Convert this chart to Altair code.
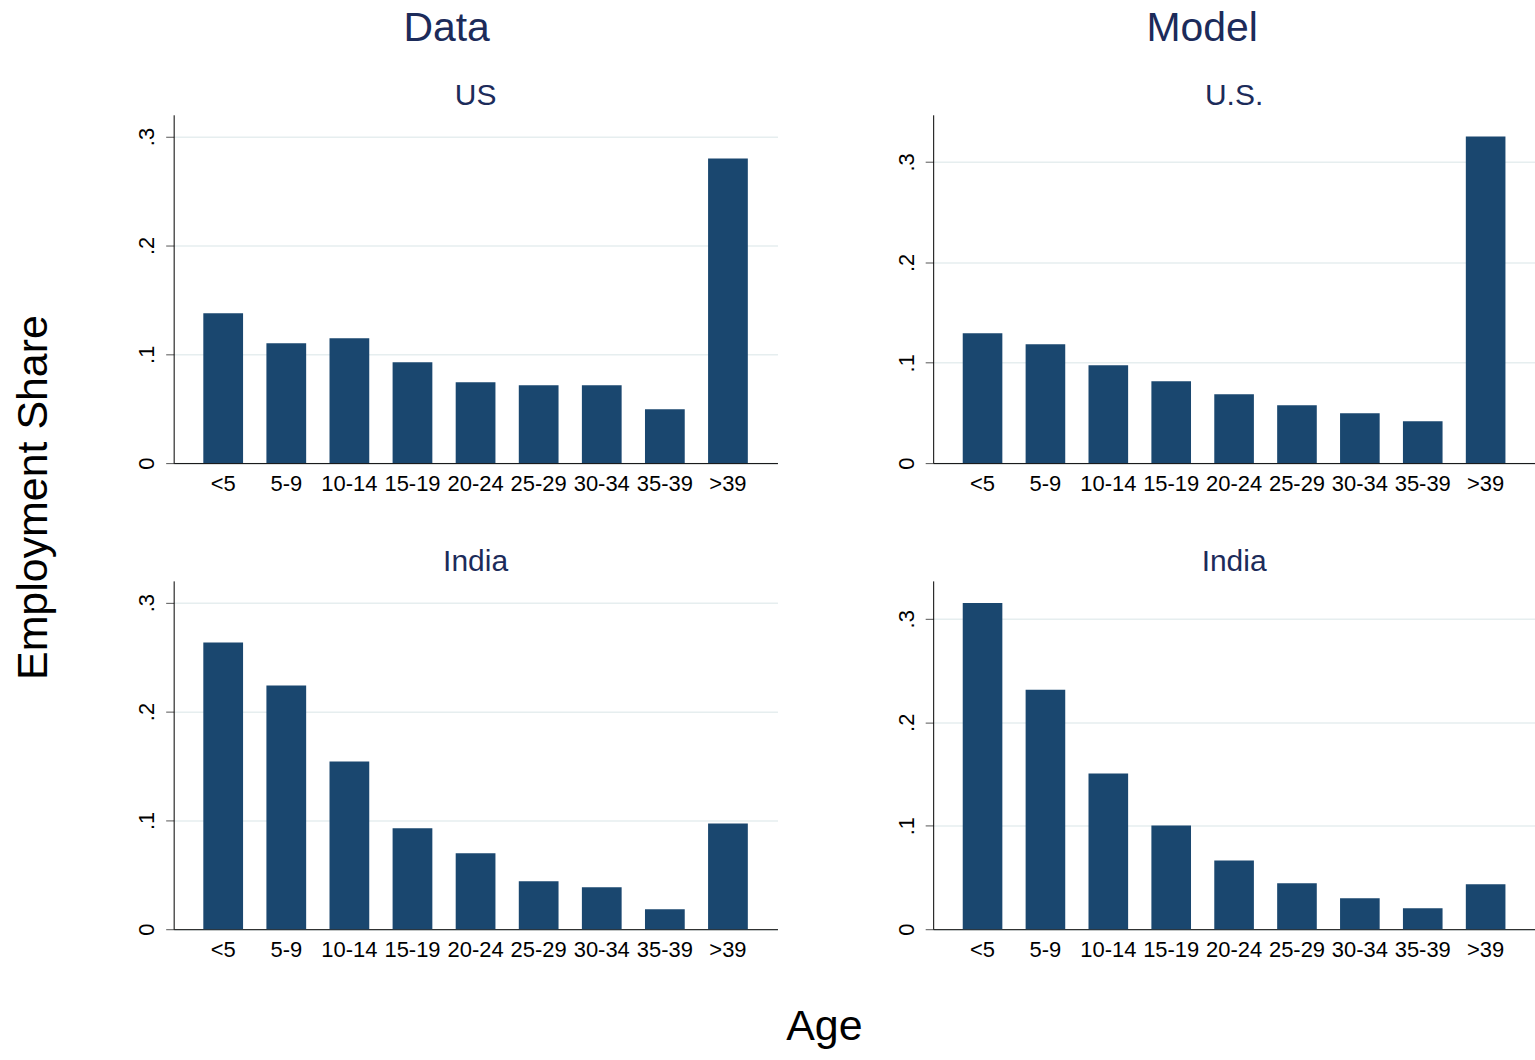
import altair as alt
import pandas as pd

AGE = ["<5", "5-9", "10-14", "15-19", "20-24", "25-29", "30-34", "35-39", ">39"]

US_DATA = [0.1376, 0.1101, 0.1147, 0.0927, 0.0743, 0.0716, 0.0716, 0.0495, 0.2798]
INDIA_DATA = [0.2633, 0.2239, 0.1541, 0.0927, 0.0697, 0.0440, 0.0385, 0.0183, 0.0972]
US_MODEL = [0.1294, 0.1184, 0.0975, 0.0816, 0.0687, 0.0577, 0.0498, 0.0418, 0.3254]
INDIA_MODEL = [0.3153, 0.2314, 0.1504, 0.1003, 0.0665, 0.0444, 0.0299, 0.0203, 0.0434]

Y_TICKS = [0, 0.1, 0.2, 0.3]

FONT = "Liberation Sans"
BAR = "#1a476f"
NAVY = "#1c2b5a"


def panel(values, title, ymax, w):
    df = pd.DataFrame({"age": AGE, "share": values})
    return (
        alt.Chart(
            df,
            title=alt.TitleParams(
                title, anchor="middle", frame="group", fontSize=30,
                font=FONT, fontWeight="normal", color=NAVY, offset=4,
            ),
        )
        .mark_bar(color=BAR)
        .encode(
            x=alt.X(
                "age:N", sort=AGE,
                scale=alt.Scale(paddingInner=0.37, paddingOuter=0.47),
                axis=alt.Axis(
                    title=None, labelAngle=0, ticks=False, labelFontSize=22,
                    labelFont=FONT, labelColor="black", labelPadding=10,
                    domainColor="black", grid=False,
                ),
            ),
            y=alt.Y(
                "share:Q",
                scale=alt.Scale(domain=[0, ymax], nice=False, zero=True),
                axis=alt.Axis(
                    title=None, values=Y_TICKS,
                    labelExpr="datum.value == 0 ? '0' : '.' + round(datum.value * 10)",
                    labelAngle=270, labelFontSize=22, labelFont=FONT,
                    labelColor="black", tickSize=8, tickColor="#555555",
                    labelPadding=7, domainColor="black", grid=True,
                    gridColor="#e6eeef", gridWidth=1.5,
                ),
            ),
        )
        .properties(
            width=w, height=349,
            view=alt.ViewBackground(stroke="transparent", strokeOpacity=0, strokeWidth=0),
        )
    )


col_title = dict(anchor="middle", fontSize=41, font=FONT, fontWeight="normal",
                 color=NAVY, offset=31)

data_col = alt.vconcat(
    panel(US_DATA, "US", 0.32, 605),
    panel(INDIA_DATA, "India", 0.32, 605),
    spacing=53,
    title=alt.TitleParams("Data", dx=-10, **col_title),
)
model_col = alt.vconcat(
    panel(US_MODEL, "U.S.", 0.347, 603),
    panel(INDIA_MODEL, "India", 0.3366, 603),
    spacing=53,
    title=alt.TitleParams("Model", dx=-13, **col_title),
)

grid = alt.hconcat(data_col, model_col, spacing=117)

mid = alt.vconcat(
    grid,
    title=alt.TitleParams("Age", orient="bottom", anchor="middle", fontSize=43,
                          font=FONT, fontWeight="normal", color="black",
                          offset=46, dx=-11),
)

chart = (
    alt.hconcat(
        mid,
        title=alt.TitleParams("Employment Share", orient="left", anchor="middle",
                              fontSize=43, font=FONT, fontWeight="normal",
                              color="black", offset=80, dx=31),
    )
    .properties(padding={"left": 12, "top": 7, "right": 0, "bottom": 0})
    .configure_view(stroke="transparent", strokeWidth=0, strokeOpacity=0)
    .configure(background="white")
)

chart.save("out.html", embed_options={"renderer": "svg", "actions": False})
